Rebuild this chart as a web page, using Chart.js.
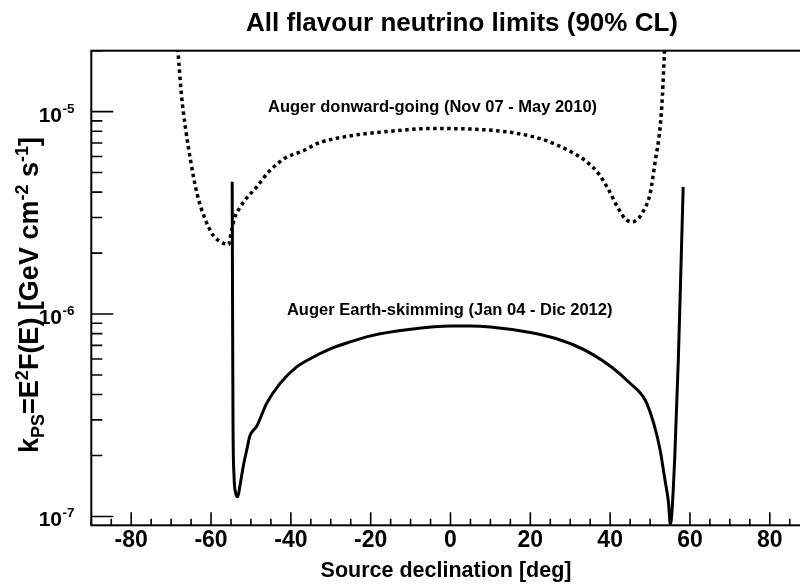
<!DOCTYPE html>
<html><head><meta charset="utf-8">
<script src="https://cdn.jsdelivr.net/npm/chart.js@4.4.1/dist/chart.umd.min.js"></script>
<style>html,body{margin:0;padding:0;background:#fff;overflow:hidden;width:800px;height:585px}canvas{display:block}</style>
</head><body>
<canvas id="c" width="840" height="585" style="width:840px;height:585px"></canvas>
<script>
// ---- data ----
const downDec  = [-68.8,-68.3,-67.4,-66.4,-65.1,-63.5,-61.4,-59.3,-57.5,-56.5,-55.6,-55.0,-54.0,-52.8,-51.5,-48.6,-45.3,-41.2,-37.1,-33,-25,-15,-5,5,15,22,27,30.6,33.9,37.2,39.7,41.8,43.8,45.5,47.0,48.0,50.0,51.3,52.5,53.1,53.6,54.0];
const downFlux = [2.6e-5,2.0e-5,1.2e-5,8.3e-6,5.7e-6,3.93e-6,2.92e-6,2.42e-6,2.27e-6,2.22e-6,2.2e-6,2.5e-6,3.03e-6,3.35e-6,3.65e-6,4.24e-6,5.1e-6,5.93e-6,6.38e-6,7.0e-6,7.6e-6,8.0e-6,8.25e-6,8.2e-6,7.9e-6,7.4e-6,6.8e-6,6.27e-6,5.7e-6,4.91e-6,4.08e-6,3.39e-6,2.95e-6,2.85e-6,2.95e-6,3.14e-6,3.93e-6,5.7e-6,8.3e-6,1.2e-5,1.95e-5,2.6e-5];
const skimDec  = [-54.7,-54.6,-54.5,-54.25,-53.8,-53.3,-52.8,-51.9,-50.9,-50.3,-49.5,-48.6,-46.1,-42.8,-38.7,-36.2,-30,-25,-20,-10,0,5,10,20,25,30.6,35.6,40.5,44.7,48.8,50.9,52.5,53.7,54.6,55.1,55.4,56.2,57.1,57.8,58.3];
const skimFlux = [4.5e-6,1.0e-6,3.0e-7,1.6e-7,1.3e-7,1.25e-7,1.4e-7,1.78e-7,2.2e-7,2.49e-7,2.65e-7,2.78e-7,3.61e-7,4.52e-7,5.45e-7,5.86e-7,6.75e-7,7.3e-7,7.8e-7,8.4e-7,8.72e-7,8.72e-7,8.62e-7,8.1e-7,7.7e-7,7.07e-7,6.32e-7,5.44e-7,4.6e-7,3.75e-7,2.89e-7,2.14e-7,1.53e-7,1.18e-7,9.1e-8,1.0e-7,1.99e-7,6.1e-7,1.87e-6,4.24e-6];
const xTickValues = [-80,-60,-40,-20,0,20,40,60,80];
const yTickExponents = [-7,-6,-5];
const titleText = 'All flavour neutrino limits (90% CL)';
const xTitleText = 'Source declination [deg]';
const labelDown = 'Auger donward-going (Nov 07 - May 2010)';
const labelSkim = 'Auger Earth-skimming (Jan 04 - Dic 2012)';

const FAM = '"Liberation Sans", Arial, Helvetica, sans-serif';
const font = s => 'bold ' + s + 'px ' + FAM;

function drawRuns(ctx, runs, x, y, align) {
  let total = 0;
  for (const r of runs) { ctx.font = font(r[1]); total += ctx.measureText(r[0]).width; }
  let cx = align === 'center' ? x - total / 2 : (align === 'right' ? x - total : x);
  ctx.textAlign = 'left';
  for (const r of runs) { ctx.font = font(r[1]); ctx.fillText(r[0], cx, y + r[2]); cx += ctx.measureText(r[0]).width; }
}

const decor = {
  id: 'decor',
  afterDatasetsDraw(chart) {
    const { ctx, chartArea: a, scales: { x, y } } = chart;
    ctx.save();
    ctx.strokeStyle = '#000'; ctx.fillStyle = '#000';
    ctx.lineWidth = 2;
    ctx.strokeRect(a.left, a.top, a.right - a.left, a.bottom - a.top);
    ctx.lineWidth = 1.6;
    ctx.beginPath();
    for (let v = -90; v <= 90; v += 5) {
      const px = x.getPixelForValue(v);
      const len = xTickValues.includes(v) ? 13 : 6.5;
      ctx.moveTo(px, a.bottom); ctx.lineTo(px, a.bottom - len);
    }
    for (let e = -8; e <= -5; e++) {
      for (let m = 1; m <= 9; m++) {
        const v = m * Math.pow(10, e);
        if (v < y.min || v > y.max) continue;
        const py = y.getPixelForValue(v);
        const len = m === 1 ? 22 : 11;
        ctx.moveTo(a.left, py); ctx.lineTo(a.left + len, py);
      }
    }
    ctx.stroke();
    ctx.textBaseline = 'alphabetic';
    ctx.font = font(23); ctx.textAlign = 'center';
    for (const v of xTickValues) ctx.fillText(String(v), x.getPixelForValue(v), a.bottom + 22);
    for (const e of yTickExponents) {
      const py = y.getPixelForValue(Math.pow(10, e));
      ctx.font = font(21); ctx.textAlign = 'right';
      ctx.fillText('10', 62, py + 10);
      ctx.font = font(13.5); ctx.textAlign = 'left';
      ctx.fillText(String(e), 62.5, py + 1);
    }
    ctx.font = font(21.5); ctx.textAlign = 'center';
    ctx.fillText(xTitleText, 446, 577);
    ctx.font = font(26); ctx.textAlign = 'center';
    ctx.fillText(titleText, 462, 31);
    ctx.font = font(16.5); ctx.textAlign = 'center';
    ctx.fillText(labelDown, x.getPixelForValue(-4.5), y.getPixelForValue(1.07e-5) + 6);
    ctx.fillText(labelSkim, x.getPixelForValue(-0.2), y.getPixelForValue(1.057e-6) + 6);
    ctx.save();
    ctx.translate(38, 295);
    ctx.rotate(-Math.PI / 2);
    drawRuns(ctx, [['k',27,0],['PS',18,6],['=E',27,0],['2',18,-10],['F(E) [GeV cm',27,0],['-2',18,-10],[' s',27,0],['-1',18,-10],[']',27,0]], 0, 0, 'center');
    ctx.restore();
    ctx.restore();
  }
};

const pts = (xs, ys) => xs.map((v, i) => ({ x: v, y: ys[i] }));

new Chart(document.getElementById('c'), {
  type: 'line',
  data: {
    datasets: [
      { label: labelDown, data: pts(downDec, downFlux), borderColor: '#000', borderWidth: 3.5, borderDash: [3.5, 3.5], borderCapStyle: 'butt', pointRadius: 0, cubicInterpolationMode: 'monotone', fill: false },
      { label: labelSkim, data: pts(skimDec, skimFlux), borderColor: '#000', borderWidth: 3, pointRadius: 0, cubicInterpolationMode: 'monotone', fill: false }
    ]
  },
  options: {
    responsive: false, animation: false, devicePixelRatio: 1,
    layout: { padding: { left: 83.3, right: 30.3, top: 50.7, bottom: 51.7 } },
    plugins: { legend: { display: false }, title: { display: false }, tooltip: { enabled: false } },
    scales: {
      x: { type: 'linear', min: -90, max: 90, ticks: { display: false }, grid: { display: false }, border: { display: false },
           afterBuildTicks: s => { s.ticks = xTickValues.map(v => ({ value: v })); } },
      y: { type: 'logarithmic', min: 9.04e-8, max: 2.0e-5, ticks: { display: false }, grid: { display: false }, border: { display: false },
           afterBuildTicks: s => { s.ticks = yTickExponents.map(e => ({ value: Math.pow(10, e) })); } }
    }
  },
  plugins: [decor]
});
</script>
</body></html>
